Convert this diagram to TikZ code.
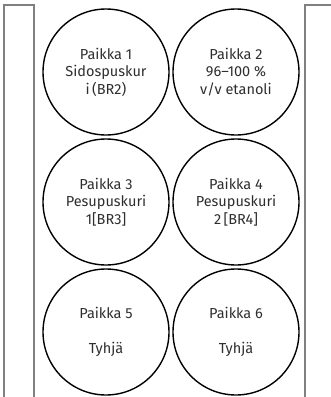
\documentclass[tikz,border=0pt]{standalone}
\usepackage{fontspec}
\setmainfont{Fira Sans}
\definecolor{framegray}{HTML}{808080}
\definecolor{txtgray}{HTML}{2E2E2E}
\begin{document}
\begin{tikzpicture}[x=1pt,y=-1pt,
  frame/.style={draw=framegray,line width=1.1pt},
  slot/.style={circle,draw=black,line width=1.4pt,minimum size=126pt,inner sep=0pt,
    align=center,text=txtgray,font=\fontsize{14.5}{17.5}\selectfont}]
\useasboundingbox (0,0) rectangle (331,397);
\draw[frame] (4,397) -- (4,5) -- (34,5) -- (34,397);
\draw[frame] (331,5) -- (305,5) -- (305,397);
\node[slot] (p1) at (106,72) {Paikka 1\\Sidospuskur\\i\,(BR2)};
\node[slot] (p2) at (236,72) {Paikka 2\\96–100 \%\\v/v etanoli};
\node[slot] (p3) at (106,202) {Paikka 3\\Pesupuskuri\\1[BR3]};
\node[slot] (p4) at (236,202) {Paikka 4\\Pesupuskuri\\2\,[BR4]};
\node[slot] (p5) at (106,332) {Paikka 5\\\mbox{}\\Tyhjä};
\node[slot] (p6) at (236,332) {Paikka 6\\\mbox{}\\Tyhjä};
\end{tikzpicture}
\end{document}
